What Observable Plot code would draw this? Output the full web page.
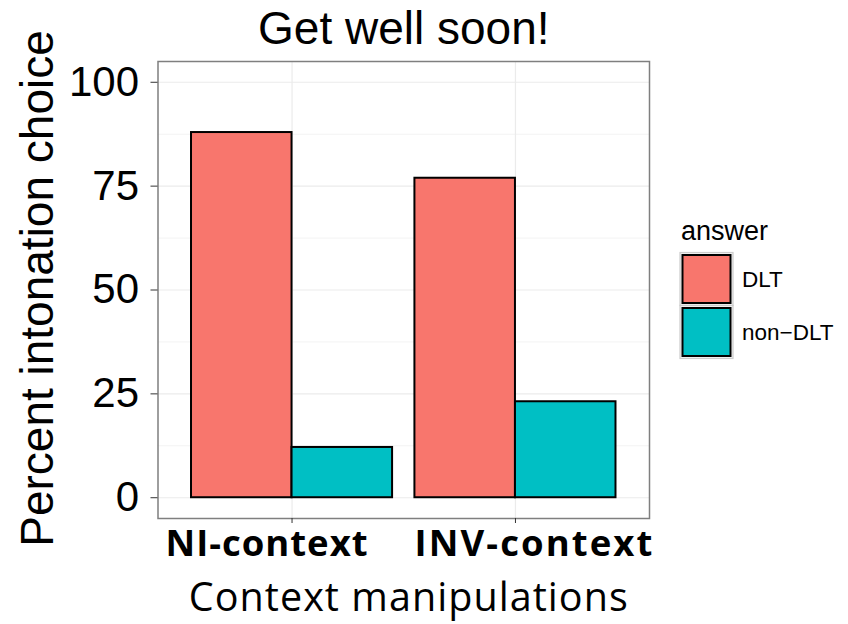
<!DOCTYPE html>
<html>
<head>
<meta charset="utf-8">
<script src="https://cdn.jsdelivr.net/npm/d3@7"></script>
<script src="https://cdn.jsdelivr.net/npm/@observablehq/plot@0.6"></script>
<style>
  html, body { margin: 0; padding: 0; background: #fff; }
  #chart svg { display: block; }
</style>
</head>
<body>
<div id="chart"></div>
<script>
const title = "Get well soon!";
const categories = ["NI-context", "INV-context"];
const answers = ["DLT", "non-DLT"];
const dltValues = [87.9, 76.9];
const nonDltValues = [12.1, 23.1];
const yTicks = [0, 25, 50, 75, 100];
const yMinorTicks = [12.5, 37.5, 62.5, 87.5];
const colors = ["#F8766D", "#00BFC4"];
const xLabel = "Context manipulations";
const yLabel = "Percent intonation choice";
const legendTitle = "answer";

const dodge = 0.45;
const data = categories.flatMap((c, i) => [
  {context: c, pos: i + 1, answer: answers[0], value: dltValues[i], k: 0},
  {context: c, pos: i + 1, answer: answers[1], value: nonDltValues[i], k: 1}
]);
const catPos = categories.map((c, i) => ({context: c, pos: i + 1}));

const helv = "'Liberation Sans', Arial, Helvetica, sans-serif";
const cal = "'Open Sans', Lato, sans-serif";

const plot = Plot.plot({
  width: 848,
  height: 624,
  marginLeft: 157.5,
  marginRight: 199,
  marginTop: 61,
  marginBottom: 106,
  style: {background: "white", fontFamily: helv},
  x: {domain: [0.4, 2.6], axis: null},
  y: {domain: [-5, 105], axis: null},
  color: {domain: answers, range: colors},
  marks: [
    Plot.ruleY(yMinorTicks, {stroke: "#f3f3f3", strokeWidth: 1}),
    Plot.ruleY(yTicks, {stroke: "#ebebeb", strokeWidth: 1.2}),
    Plot.ruleX(catPos, {x: "pos", stroke: "#ebebeb", strokeWidth: 1.2}),
    Plot.rect(data, {
      x1: d => d.pos - dodge + d.k * dodge,
      x2: d => d.pos + d.k * dodge,
      y1: 0,
      y2: "value",
      fill: "answer",
      stroke: "black",
      strokeWidth: 2
    }),
    Plot.frame({stroke: "#7f7f7f", strokeWidth: 1.5}),
    Plot.axisY({ticks: yTicks, tickSize: 7, tickPadding: 12, fontSize: 42, label: null, stroke: "#333", fill: "black", fontFamily: helv}),
    Plot.axisX({ticks: catPos.map(d => d.pos), tickSize: 5, tickFormat: () => "", label: null, stroke: "#333"}),
    Plot.text(catPos.slice(0, 1), {x: "pos", text: "context", frameAnchor: "bottom", lineAnchor: "middle", textAnchor: "middle", dy: 26, dx: -25.5, fontSize: 36.5, fontWeight: "bold", fontFamily: cal, fill: "black"}),
    Plot.text(catPos.slice(1, 2), {x: "pos", text: "context", frameAnchor: "bottom", lineAnchor: "middle", textAnchor: "middle", dy: 26, dx: 18, fontSize: 36.5, fontWeight: "bold", fontFamily: cal, fill: "black"}),
    Plot.text([xLabel], {frameAnchor: "bottom", lineAnchor: "middle", textAnchor: "middle", dy: 80, dx: 4.5, fontSize: 39.5, fontFamily: cal, fill: "black"}),
    Plot.text([yLabel], {frameAnchor: "left", lineAnchor: "middle", textAnchor: "middle", dx: -119.5, dy: -1.5, rotate: -90, fontSize: 46, fontFamily: helv, fill: "black"}),
    Plot.text([title], {frameAnchor: "top", lineAnchor: "middle", textAnchor: "middle", dy: -32.5, fontSize: 46, fontFamily: helv, fill: "black"})
  ]
});

document.getElementById("chart").appendChild(plot);

const svg = d3.select(plot);
// stretch the Calibri-like labels to the reference's widths via letter-spacing
function fitWidth(content, target) {
  svg.selectAll("text").filter(function() { return this.textContent === content; }).each(function() {
    const el = d3.select(this);
    el.style("letter-spacing", null).attr("dx", null);
    const n = this.textContent.length;
    const w = this.getComputedTextLength();
    const ls = Math.max(0, (target - w) / n);
    el.style("letter-spacing", ls + "px").attr("dx", ls / 2);
  });
}
function fitAll() {
  fitWidth(categories[0], 203);
  fitWidth(categories[1], 240);
  fitWidth(xLabel, 440);
}
fitAll();
if (document.fonts && document.fonts.ready) document.fonts.ready.then(fitAll);

// Legend (ggplot-style keys) drawn from the plot's color scale
const color = plot.scale("color");
const lg = svg.append("g").attr("font-family", helv).attr("text-anchor", "start");
lg.append("text").attr("x", 681).attr("y", 240).attr("font-size", 27).attr("fill", "black").text(legendTitle);
color.domain.forEach((a, i) => {
  const y0 = 252.5 + i * 53;
  lg.append("rect").attr("x", 680).attr("y", y0).attr("width", 53).attr("height", 53)
    .attr("fill", "#f2f2f2").attr("stroke", "#cccccc").attr("stroke-width", 1.2);
  lg.append("rect").attr("x", 682.5).attr("y", y0 + 2.5).attr("width", 48).attr("height", 48)
    .attr("fill", color.range[i]).attr("stroke", "black").attr("stroke-width", 2);
  lg.append("text").attr("x", 742).attr("y", y0 + 26.5).attr("dy", "0.35em")
    .attr("font-size", 22.5).attr("fill", "black").text(a.replace("-", "\u2212"));
});
</script>
</body>
</html>
